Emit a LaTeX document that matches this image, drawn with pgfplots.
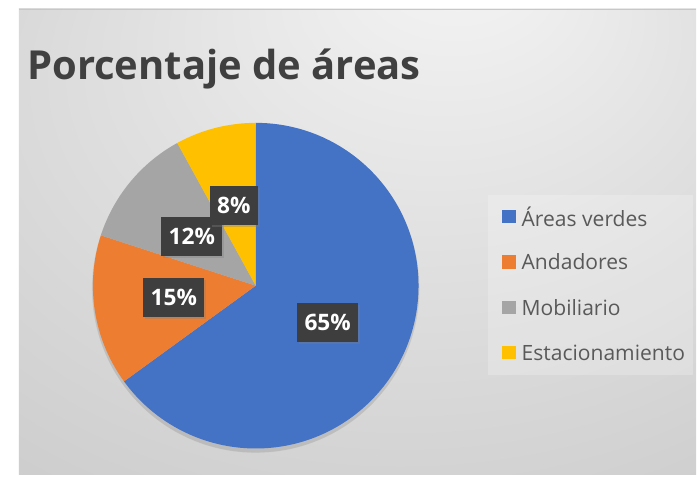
\documentclass[border=0pt]{standalone}
\usepackage{pgfplots}
\pgfplotsset{compat=1.18}
\usepackage{pgfplotstable}
\usepackage{fontspec}
\setmainfont{Open Sans}
\usetikzlibrary{shadows}

\definecolor{cblue}{HTML}{4472C4}
\definecolor{corange}{HTML}{ED7D31}
\definecolor{cgray}{HTML}{A5A5A5}
\definecolor{cyellow}{HTML}{FFC000}
\definecolor{titlegray}{HTML}{404040}
\definecolor{textgray}{HTML}{595959}
\definecolor{lblbox}{HTML}{3E3E3E}
\definecolor{bgA}{HTML}{F5F5F5}
\definecolor{bgB}{HTML}{E0E0E0}
\definecolor{bgC}{HTML}{C8C8C8}

\pgfdeclareradialshading{bgshade}{\pgfpoint{8bp}{32bp}}{%
  color(0bp)=(bgA); color(22bp)=(bgB); color(50bp)=(bgC); color(60bp)=(bgC)}

\tikzset{lbl/.style={fill=lblbox, text=white, inner xsep=5.5pt, inner ysep=0pt,
    minimum height=29.5pt, font=\fontsize{17}{20}\selectfont\bfseries,
    drop shadow={opacity=0.35, shadow xshift=1.5pt, shadow yshift=-1.5pt}}}

% name, percentage, colour, label position (px from left, px from bottom)
\pgfplotstableread[col sep=comma]{
name,value,color,lx,ly
Áreas verdes,65,cblue,328,154
Andadores,15,corange,174,179
Mobiliario,12,cgray,192,240
Estacionamiento,8,cyellow,234,271
}\piedata

% build slice, label and legend commands with the angles worked out
\def\pieslices{}
\def\pielabels{}
\def\pielegend{}
\pgfmathsetmacro\startang{90}
\pgfplotsforeachungrouped \i in {0,1,2,3}{%
  \pgfplotstablegetelem{\i}{value}\of\piedata \pgfmathtruncatemacro\v{\pgfplotsretval}%
  \pgfplotstablegetelem{\i}{color}\of\piedata \edef\c{\pgfplotsretval}%
  \pgfplotstablegetelem{\i}{name}\of\piedata \edef\n{\pgfplotsretval}%
  \pgfplotstablegetelem{\i}{lx}\of\piedata \edef\lx{\pgfplotsretval}%
  \pgfplotstablegetelem{\i}{ly}\of\piedata \edef\ly{\pgfplotsretval}%
  \pgfmathsetmacro\endang{\startang-3.6*\v}%
  \pgfmathsetmacro\legy{260-45.3*\i}%
  \edef\pieslices{\unexpanded\expandafter{\pieslices}%
    \noexpand\fill[\c] (axis cs:256,191) -- ++(\startang:122.25pt)
      arc[start angle=\startang, end angle=\endang, radius=122.25pt] -- cycle;}%
  \edef\pielabels{\unexpanded\expandafter{\pielabels}%
    \noexpand\node[lbl] at (axis cs:\lx,\ly) {\v\noexpand\%};}%
  \edef\pielegend{\unexpanded\expandafter{\pielegend}%
    \noexpand\fill[\c] (axis cs:503,\legy) ++(0,-5pt) rectangle ++(10pt,10pt);
    \noexpand\node[anchor=west, inner sep=0pt, text=textgray,
      font=\noexpand\fontsize{15.8}{18}\noexpand\selectfont] at (axis cs:522,\legy) {\n};}%
  \let\startang\endang
}

\begin{document}
\begin{tikzpicture}
\begin{axis}[
  x=0.75pt, y=0.75pt,
  xmin=0, xmax=697, ymin=0, ymax=477,
  hide axis, clip=false, scale only axis,
]
  \addplot[draw=none] coordinates {(0,0) (697,477)};
  % chart area
  \fill[white] (axis cs:0,0) rectangle (axis cs:697,477);
  \shade[shading=bgshade] (axis cs:19,2) rectangle (axis cs:697,468);
  \draw[color=black!22, line width=1.2pt] (axis cs:19,467.5) -- (axis cs:697,467.5);
  % title
  \node[anchor=base west, inner sep=0pt, text=titlegray,
    font=\fontsize{30}{36}\selectfont\bfseries] at (axis cs:27,397) {Porcentaje de áreas};
  % soft shadow below the pie
  \fill[black, opacity=0.06] (axis cs:256,188) circle[radius=123pt];
  \fill[black, opacity=0.05] (axis cs:256,187) circle[radius=122.5pt];
  \pieslices
  \pielabels
  % legend
  \fill[white, opacity=0.22] (axis cs:489,102) rectangle (axis cs:694,282);
  \pielegend
\end{axis}
\end{tikzpicture}
\end{document}
